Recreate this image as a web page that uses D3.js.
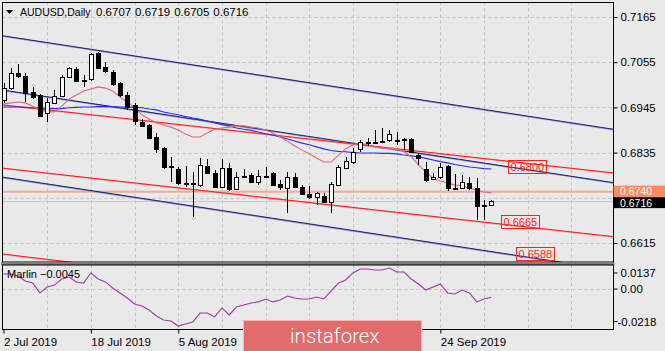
<!DOCTYPE html>
<html><head><meta charset="utf-8">
<script src="https://cdn.jsdelivr.net/npm/d3@7"></script>
<style>
html,body{margin:0;padding:0;background:#e9e9e9;}
svg{display:block;font-family:"Liberation Sans",Arial,sans-serif;}
</style></head><body>
<svg id="c" width="665" height="351"></svg>
<script>
// ---------------- DATA ----------------
const symbol = "AUDUSD,Daily";
const lastOHLC = [0.6707, 0.6719, 0.6705, 0.6716];
const open  = [0.6963,0.6992,0.7029,0.7021,0.6982,0.6975,0.6931,0.6956,0.6973,0.7019,
               0.7038,0.7012,0.7014,0.7078,0.7043,0.7031,0.7004,0.6975,0.6951,0.6910,
               0.6902,0.6873,0.6846,0.6803,0.6795,0.6762,0.6760,0.6756,0.6803,0.6786,
               0.6751,0.6798,0.6746,0.6777,0.6781,0.6764,0.6777,0.6786,0.6759,0.6749,
               0.6776,0.6751,0.6734,0.6727,0.6729,0.6715,0.6757,0.6798,0.6812,0.6844,
               0.6860,0.6862,0.6862,0.6866,0.6865,0.6867,0.6868,0.6829,0.6795,0.6771,
               0.6776,0.6803,0.6750,0.6749,0.6761,0.6749,0.6706,0.6707];
const high  = [0.7004,0.7041,0.7051,0.7029,0.6994,0.6977,0.6968,0.6987,0.7024,0.7043,
               0.7043,0.7024,0.7078,0.7080,0.7056,0.7036,0.7007,0.6982,0.6956,0.6917,
               0.6905,0.6883,0.6849,0.6825,0.6800,0.6803,0.6788,0.6822,0.6820,0.6793,
               0.6820,0.6810,0.6788,0.6795,0.6786,0.6793,0.6800,0.6788,0.6768,0.6788,
               0.6786,0.6756,0.6754,0.6739,0.6737,0.6763,0.6805,0.6825,0.6846,0.6866,
               0.6871,0.6890,0.6895,0.6890,0.6885,0.6871,0.6871,0.6834,0.6812,0.6786,
               0.6810,0.6805,0.6783,0.6781,0.6776,0.6773,0.6720,0.6719];
const low   = [0.6956,0.6987,0.7017,0.6958,0.6965,0.6922,0.6910,0.6953,0.6970,0.7017,
               0.7007,0.6994,0.7009,0.7038,0.7029,0.6997,0.6970,0.6939,0.6902,0.6897,
               0.6868,0.6834,0.6795,0.6763,0.6756,0.6751,0.6678,0.6751,0.6785,0.6749,
               0.6749,0.6742,0.6744,0.6773,0.6761,0.6756,0.6776,0.6753,0.6744,0.6688,
               0.6749,0.6732,0.6722,0.6708,0.6712,0.6688,0.6754,0.6795,0.6807,0.6837,
               0.6851,0.6856,0.6861,0.6861,0.6854,0.6841,0.6834,0.6805,0.6763,0.6768,
               0.6771,0.6742,0.6747,0.6747,0.6744,0.6671,0.6671,0.6705];
const close = [0.6992,0.7029,0.7021,0.6980,0.6970,0.6924,0.6958,0.6973,0.7019,0.7041,
               0.7009,0.7009,0.7075,0.7041,0.7034,0.7002,0.6975,0.6946,0.6912,0.6900,
               0.6871,0.6844,0.6800,0.6799,0.6761,0.6760,0.6762,0.6805,0.6786,0.6751,
               0.6798,0.6746,0.6776,0.6779,0.6764,0.6778,0.6779,0.6756,0.6751,0.6776,
               0.6751,0.6734,0.6727,0.6737,0.6715,0.6759,0.6800,0.6815,0.6837,0.6861,
               0.6862,0.6860,0.6864,0.6880,0.6863,0.6865,0.6837,0.6822,0.6768,0.6776,
               0.6800,0.6749,0.6748,0.6764,0.6749,0.6705,0.6707,0.6716];
const maFast = [0.6953,0.6956,0.6958,0.6956,0.6948,0.6939,0.6934,0.6934,0.6948,0.6965,
                0.6975,0.6985,0.6990,0.6995,0.6992,0.6985,0.6970,0.6958,0.6944,0.6927,
                0.6917,0.6907,0.6902,0.6897,0.6890,0.6880,0.6873,0.6873,0.6883,0.6892,
                0.6895,0.6897,0.6900,0.6900,0.6897,0.6895,0.6890,0.6883,0.6873,0.6863,
                0.6851,0.6841,0.6832,0.6822,0.6812,0.6812,0.6829,0.6844,0.6854,0.6858,
                0.6854,0.6849,0.6846,0.6846,0.6844,0.6837,0.6825,0.6805,0.6788,0.6773,
                0.6766,0.6761,0.6756,0.6754,0.6749,0.6744,0.6739,0.6737];
const maSlow = [0.6946,0.6946,0.6946,0.6945,0.6944,0.6944,0.6942,0.6942,0.6942,0.6944,
                0.6945,0.6946,0.6946,0.6947,0.6947,0.6947,0.6946,0.6946,0.6945,0.6944,
                0.6941,0.6939,0.6934,0.6930,0.6927,0.6923,0.6919,0.6916,0.6912,0.6907,
                0.6903,0.6900,0.6895,0.6892,0.6889,0.6885,0.6881,0.6878,0.6873,0.6868,
                0.6863,0.6858,0.6854,0.6849,0.6844,0.6840,0.6838,0.6837,0.6835,0.6834,
                0.6834,0.6834,0.6833,0.6833,0.6832,0.6829,0.6827,0.6825,0.6821,0.6817,
                0.6813,0.6810,0.6806,0.6803,0.6800,0.6798,0.6796,0.6795];
const marlin = [0.0082,0.0082,0.0071,0.0044,0.0033,-0.0021,0.0011,0.0022,0.0055,0.0066,
                0.0039,0.0033,0.0088,0.0055,0.0039,0.0006,-0.0021,-0.0049,-0.0081,-0.0092,
                -0.0114,-0.0147,-0.0169,-0.0174,-0.0202,-0.0191,-0.0180,-0.0131,-0.0131,-0.0152,
                -0.0103,-0.0141,-0.0098,-0.0087,-0.0076,-0.0070,-0.0054,-0.0070,-0.0060,-0.0038,
                -0.0049,-0.0054,-0.0054,-0.0043,-0.0054,-0.0010,0.0033,0.0050,0.0088,0.0110,
                0.0110,0.0104,0.0104,0.0115,0.0093,0.0093,0.0055,0.0028,-0.0005,0.0011,
                0.0028,-0.0021,-0.0027,-0.0005,-0.0021,-0.0070,-0.0054,-0.0045];
const marlinName = "Marlin";
const marlinLast = -0.0045;
const priceTicks = [0.7165, 0.7055, 0.6945, 0.6835, 0.6725, 0.6615];
const priceTickShown = [true, true, true, true, false, true]; // 0.6725 is hidden behind the price tags
const marlinTicks = [0.0137, 0.00, -0.0218];
const marlinTickText = ["0.0137", "0.00", "-0.0218"];
const dateLabels = ["2 Jul 2019", "18 Jul 2019", "5 Aug 2019", "24 Sep 2019"];
const dateLabelBars = [0, 12, 24, 60];
// channel lines: [bar1, price1, bar2, price2]
const navyLines = [[0, 0.7119, 80, 0.6902], [0, 0.6987, 80, 0.6772], [0, 0.6775, 80, 0.6559]];
const redLines  = [[0, 0.6951, 80, 0.6793], [0, 0.6797, 80, 0.6638], [0, 0.6588, 80, 0.6418]];
const levelLabels = ["0.6800", "0.6665", "0.6588"];
const levelPrices = [0.6800, 0.6665, 0.6588];
const levelBars   = [69.3, 68.3, 70.4];
const resistLevel = 0.6740;
const bidPrice = 0.6716;
const watermark = "instaforex";

// ---------------- DRAW ----------------
const svg = d3.select("#c");
const L = 2.5, R = 613.5, T = 2.5, B1 = 262, T2 = 265, B2 = 329.5;
const x = d3.scaleLinear().domain([0, 67]).range([3.5, 491.3]);
const y = d3.scaleLinear().domain([0.7165, 0.6615]).range([17, 243]);
const ym = d3.scaleLinear().domain([-0.0218, 0.0137]).range([329, 264]);

svg.append("rect").attr("width", 665).attr("height", 351).attr("fill", "#e9e9e9");
const defs = svg.append("defs");
defs.append("clipPath").attr("id", "cm").append("rect").attr("x", L + 0.5).attr("y", T + 0.5).attr("width", R - L - 1).attr("height", B1 - T - 0.5);
defs.append("clipPath").attr("id", "ci").append("rect").attr("x", L + 0.5).attr("y", T2).attr("width", R - L - 1).attr("height", B2 - T2 - 0.5);

// grid
const grid = svg.append("g").attr("stroke", "#c3c3c3").attr("stroke-dasharray", "3,3").attr("stroke-width", 1);
d3.range(6, 84, 6).forEach(b => {
  const gx = Math.round(x(b)) + 0.5;
  grid.append("line").attr("x1", gx).attr("x2", gx).attr("y1", T).attr("y2", B1);
  grid.append("line").attr("x1", gx).attr("x2", gx).attr("y1", T2).attr("y2", B2);
});
priceTicks.forEach(p => {
  const gy = Math.round(y(p)) + 0.5;
  grid.append("line").attr("x1", L).attr("x2", R).attr("y1", gy).attr("y2", gy);
});
grid.append("line").attr("x1", L).attr("x2", R).attr("y1", Math.round(ym(0)) + 0.5).attr("y2", Math.round(ym(0)) + 0.5);

const main = svg.append("g").attr("clip-path", "url(#cm)");
// horizontal levels
main.append("line").attr("x1", L).attr("x2", R).attr("y1", y(bidPrice)).attr("y2", y(bidPrice)).attr("stroke", "#c8c8c8").attr("stroke-width", 1);
main.append("line").attr("x1", L).attr("x2", R).attr("y1", y(resistLevel)).attr("y2", y(resistLevel)).attr("stroke", "#f7a893").attr("stroke-width", 2);

// channel lines
function ext(l) {
  const [b1, p1, b2, p2] = l;
  const f = b => p1 + (p2 - p1) * (b - b1) / (b2 - b1);
  return [[x(-2), y(f(-2))], [x(90), y(f(90))]];
}
navyLines.forEach(l => {
  const e = ext(l);
  main.append("line").attr("x1", e[0][0]).attr("y1", e[0][1] + 0.5).attr("x2", e[1][0]).attr("y2", e[1][1] + 0.5)
    .attr("stroke", "#9a9acb").attr("stroke-width", 1.4);
  main.append("line").attr("x1", e[0][0]).attr("y1", e[0][1]).attr("x2", e[1][0]).attr("y2", e[1][1])
    .attr("stroke", "#1e1e78").attr("stroke-width", 1);
});
redLines.forEach(l => {
  const e = ext(l);
  main.append("line").attr("x1", e[0][0]).attr("y1", e[0][1] + 0.5).attr("x2", e[1][0]).attr("y2", e[1][1] + 0.5)
    .attr("stroke", "#f5a0a0").attr("stroke-width", 1.4);
  main.append("line").attr("x1", e[0][0]).attr("y1", e[0][1]).attr("x2", e[1][0]).attr("y2", e[1][1])
    .attr("stroke", "#ff1a1a").attr("stroke-width", 1);
});

// moving averages
const lineGen = d3.line().x((d, i) => x(i)).y(d => y(d));
main.append("path").datum(maSlow).attr("d", lineGen).attr("fill", "none").attr("stroke", "#2b2bf0").attr("stroke-width", 1.1);
main.append("path").datum(maFast).attr("d", lineGen).attr("fill", "none").attr("stroke", "#e3647c").attr("stroke-width", 1.1);

// candles
const cg = main.append("g").attr("shape-rendering", "crispEdges");
open.forEach((o, i) => {
  const cx = Math.round(x(i));
  const c = close[i];
  cg.append("line").attr("x1", cx + 0.5).attr("x2", cx + 0.5).attr("y1", y(high[i])).attr("y2", y(low[i])).attr("stroke", "#000");
  const top = Math.round(y(Math.max(o, c))), bot = Math.round(y(Math.min(o, c)));
  cg.append("rect").attr("x", cx - 1.5).attr("y", top + 0.5).attr("width", 4).attr("height", Math.max(bot - top, 0.5))
    .attr("fill", c >= o ? "#ffffff" : "#000000").attr("stroke", "#000").attr("stroke-width", 1);
});

// level text labels
levelLabels.forEach((t, i) => {
  const bx = Math.round(x(levelBars[i])) + 0.5, by = Math.round(y(levelPrices[i])) - 6.5;
  main.append("rect").attr("x", bx).attr("y", by).attr("width", 38).attr("height", 13).attr("fill", "none").attr("stroke", "#ff2020");
  main.append("text").attr("x", bx + 2).attr("y", by + 10.5).attr("font-size", 11).attr("fill", "#ff2020").text(t);
});

// indicator
const ind = svg.append("g").attr("clip-path", "url(#ci)");
ind.append("path").datum(marlin).attr("d", d3.line().x((d, i) => x(i)).y(d => ym(d)))
  .attr("fill", "none").attr("stroke", "#9c3aa6").attr("stroke-width", 1.1);
svg.append("text").attr("x", 7).attr("y", 278).attr("font-size", 11).attr("fill", "#000")
  .text(marlinName + " " + d3.format(".4f")(marlinLast));

// frames
svg.append("rect").attr("x", L).attr("y", T).attr("width", R - L).attr("height", B1 - T).attr("fill", "none").attr("stroke", "#000");
svg.append("rect").attr("x", 1).attr("y", 262).attr("width", R).attr("height", 3).attr("fill", "#7d7d7d");
svg.append("rect").attr("x", L).attr("y", T2).attr("width", R - L).attr("height", B2 - T2).attr("fill", "none").attr("stroke", "#000");

// price axis
const pa = svg.append("g").attr("transform", `translate(${R},0)`)
  .call(d3.axisRight(y).tickValues(priceTicks).tickSize(4).tickPadding(3)
    .tickFormat((d, i) => priceTickShown[i] ? d3.format(".4f")(d) : ""));
pa.select(".domain").remove();
pa.selectAll("text").attr("font-size", 11.5).attr("font-family", "Liberation Sans, Arial, sans-serif").attr("fill", "#000");
pa.selectAll("line").attr("stroke", "#000");

// bid / level price labels on axis
const yb = y(bidPrice), yr = y(resistLevel);
svg.append("rect").attr("x", R).attr("y", yr + 5.5).attr("width", 665 - R).attr("height", 11).attr("fill", "#000");
svg.append("text").attr("x", 620).attr("y", yr + 15).attr("font-size", 10.5).attr("fill", "#fff").text(d3.format(".4f")(bidPrice));
svg.append("rect").attr("x", R).attr("y", yr - 6).attr("width", 665 - R).attr("height", 11.5).attr("fill", "#fb8c5e");
svg.append("text").attr("x", 620).attr("y", yr + 3.5).attr("font-size", 10.5).attr("fill", "#fff").text(d3.format(".4f")(resistLevel));

// indicator axis
const ia = svg.append("g").attr("transform", `translate(${R},0)`);
marlinTicks.forEach((v, i) => {
  const ty = Math.min(Math.max(ym(v), 273), 321.5);
  ia.append("line").attr("x1", 0).attr("x2", 4).attr("y1", ty).attr("y2", ty).attr("stroke", "#000");
  ia.append("text").attr("x", v < 0 ? 4 : 7).attr("y", ty + 4).attr("font-size", 11.5).attr("fill", "#000").text(marlinTickText[i]);
});

// date axis
const da = svg.append("g").attr("transform", `translate(0,${B2})`)
  .call(d3.axisBottom(x).tickValues(dateLabelBars).tickSize(4).tickPadding(4).tickFormat((d, i) => dateLabels[i]));
da.select(".domain").remove();
da.selectAll("text").attr("text-anchor", "start").attr("font-size", 11.5).attr("font-family", "Liberation Sans, Arial, sans-serif").attr("fill", "#000");
da.selectAll("line").attr("stroke", "#000");

// header
svg.append("path").attr("d", "M6,10 L13,10 L9.5,14 Z").attr("fill", "#000");
svg.append("text").attr("x", 20).attr("y", 16).attr("font-size", 10.5).attr("fill", "#000").text(symbol);
lastOHLC.forEach((v, i) => {
  svg.append("text").attr("x", 96 + i * 39.1).attr("y", 16).attr("font-size", 11.5).attr("fill", "#000").text(d3.format(".4f")(v));
});

// watermark
svg.append("rect").attr("x", 243.5).attr("y", 320.5).attr("width", 178).attr("height", 32).attr("fill", "#e26b6b").attr("stroke", "#f3b9b9");
svg.append("text").attr("x", 290).attr("y", 343).attr("font-size", 20.5).attr("font-family", "Roboto, sans-serif").attr("font-weight", 300).attr("fill", "#fff").text(watermark);
</script>
</body></html>
